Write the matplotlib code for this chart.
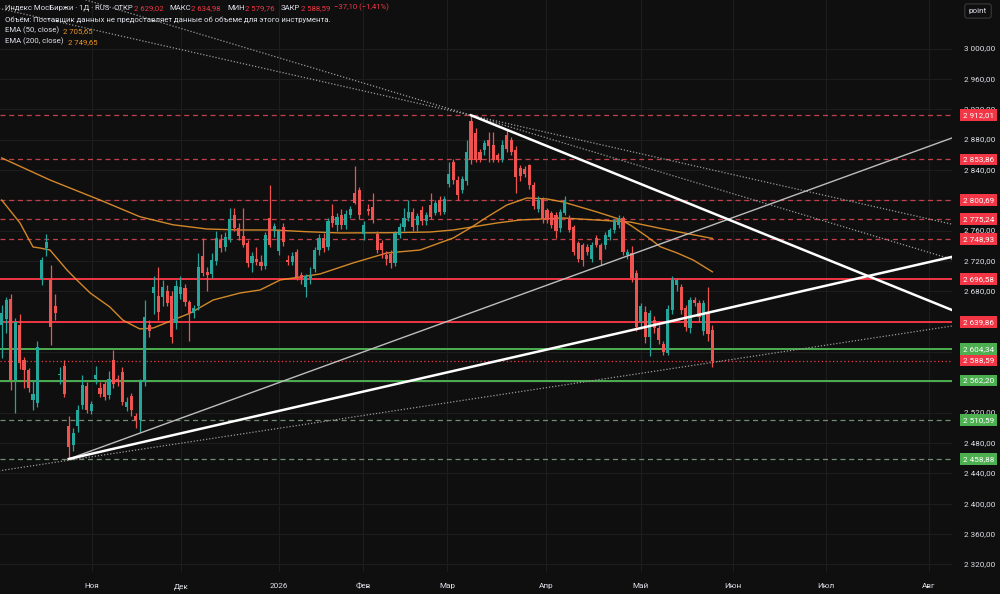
import matplotlib
matplotlib.use('Agg')
import matplotlib.pyplot as plt
from matplotlib.transforms import blended_transform_factory

# ---------------- data ----------------
opens = [2636, 2644, 2670, 2563, 2635, 2589, 2576, 2537, 2533, 2696,
         2737, 2695, 2660, 2569, 2581, 2502, 2477, 2502, 2530, 2555,
         2522, 2564, 2552, 2558, 2543, 2589, 2565, 2573, 2528, 2542,
         2515, 2510, 2561, 2635, 2678, 2674, 2672, 2680, 2674, 2638,
         2676, 2684, 2666, 2652, 2660, 2727, 2706, 2703, 2720, 2748,
         2739, 2749, 2781, 2764, 2753, 2743, 2717, 2723, 2718, 2713,
         2776, 2759, 2733, 2765, 2721, 2719, 2732, 2701, 2685, 2697,
         2710, 2734, 2750, 2739, 2779, 2768, 2780, 2767, 2781, 2810,
         2813, 2756, 2789, 2791, 2755, 2743, 2728, 2729, 2717, 2754,
         2765, 2776, 2785, 2768, 2787, 2772, 2794, 2783, 2800, 2785,
         2822, 2850, 2827, 2814, 2825, 2905, 2888, 2864, 2866, 2879,
         2873, 2859, 2855, 2886, 2880, 2866, 2842, 2841, 2846, 2820,
         2788, 2801, 2787, 2783, 2781, 2763, 2783, 2776, 2765, 2743,
         2741, 2739, 2723, 2750, 2741, 2741, 2752, 2761, 2767, 2776,
         2728, 2730, 2704, 2640, 2653, 2620, 2642, 2631, 2611, 2598,
         2655, 2688, 2686, 2658, 2631, 2668, 2664, 2627, 2653, 2629.02]
highs = [2662, 2673, 2677, 2645, 2650, 2593, 2579, 2563, 2615, 2725,
         2756, 2715, 2677, 2580, 2590, 2515, 2500, 2530, 2570, 2560,
         2535, 2582, 2560, 2562, 2575, 2602, 2570, 2580, 2540, 2546,
         2520, 2565, 2668, 2642, 2700, 2712, 2695, 2688, 2680, 2695,
         2700, 2690, 2668, 2662, 2730, 2750, 2712, 2730, 2760, 2755,
         2758, 2790, 2790, 2770, 2790, 2748, 2732, 2738, 2728, 2758,
         2820, 2770, 2762, 2770, 2728, 2732, 2736, 2705, 2703, 2712,
         2738, 2755, 2757, 2777, 2795, 2783, 2788, 2787, 2792, 2845,
         2818, 2772, 2795, 2810, 2760, 2748, 2733, 2735, 2760, 2770,
         2790, 2800, 2790, 2783, 2792, 2785, 2810, 2800, 2805, 2805,
         2850, 2855, 2832, 2832, 2880, 2912.01, 2895, 2868, 2880, 2890,
         2890, 2862, 2880, 2892, 2884, 2871, 2846, 2845, 2848, 2824,
         2805, 2804, 2790, 2786, 2784, 2788, 2806, 2780, 2768, 2746,
         2744, 2742, 2745, 2754, 2744, 2758, 2764, 2775, 2781, 2779,
         2736, 2740, 2708, 2665, 2660, 2655, 2648, 2636, 2615, 2662,
         2700, 2697, 2690, 2662, 2672, 2672, 2668, 2668, 2685, 2634.98]
lows = [2592, 2625, 2550, 2520, 2578, 2552, 2547, 2523, 2528, 2688,
        2726, 2609, 2642, 2558, 2540, 2458.88, 2470, 2495, 2525, 2520,
        2518, 2558, 2540, 2536, 2538, 2552, 2555, 2530, 2522, 2515,
        2500, 2495, 2555, 2620, 2650, 2642, 2660, 2660, 2612, 2630,
        2670, 2660, 2615, 2645, 2655, 2700, 2680, 2698, 2715, 2732,
        2733, 2745, 2760, 2748, 2738, 2712, 2705, 2714, 2708, 2710,
        2738, 2752, 2728, 2740, 2715, 2715, 2695, 2690, 2673, 2690,
        2705, 2728, 2732, 2735, 2765, 2760, 2762, 2762, 2776, 2795,
        2775, 2748, 2780, 2770, 2730, 2724, 2715, 2711, 2713, 2750,
        2760, 2772, 2760, 2760, 2768, 2768, 2775, 2780, 2780, 2782,
        2818, 2822, 2800, 2810, 2820, 2848, 2850, 2850, 2860, 2850,
        2850, 2850, 2850, 2864, 2860, 2810, 2826, 2830, 2815, 2788,
        2784, 2770, 2770, 2764, 2750, 2758, 2780, 2758, 2728, 2718,
        2713, 2728, 2718, 2738, 2715, 2736, 2748, 2757, 2764, 2728,
        2722, 2692, 2628, 2630, 2612, 2595, 2625, 2610, 2596, 2596,
        2650, 2680, 2650, 2628, 2625, 2660, 2640, 2622, 2615, 2579.76]
closes = [2651, 2668, 2563, 2639, 2586, 2576, 2552, 2545, 2606, 2721,
          2745, 2633, 2651, 2571, 2544, 2475, 2493, 2524, 2556, 2524,
          2532, 2570, 2545, 2541, 2565, 2558, 2560, 2534, 2534, 2523,
          2510, 2561, 2646, 2628, 2685, 2653, 2686, 2665, 2620, 2687,
          2686, 2666, 2651, 2658, 2712, 2704, 2701, 2721, 2750, 2737,
          2751, 2775, 2764, 2753, 2741, 2717, 2726, 2718, 2713, 2754,
          2741, 2766, 2759, 2745, 2719, 2726, 2699, 2697, 2700, 2701,
          2734, 2750, 2737, 2772, 2770, 2778, 2768, 2782, 2788, 2797,
          2781, 2768, 2786, 2774, 2734, 2735, 2722, 2717, 2757, 2765,
          2776, 2784, 2765, 2779, 2772, 2781, 2778, 2796, 2785, 2801,
          2835, 2827, 2807, 2828, 2864, 2853, 2853, 2853, 2875, 2871,
          2853, 2853, 2873, 2868, 2864, 2831, 2832, 2835, 2820, 2792,
          2800, 2775, 2774, 2768, 2759, 2785, 2800, 2761, 2732, 2723,
          2721, 2732, 2741, 2741, 2721, 2754, 2761, 2772, 2776, 2732,
          2732, 2697, 2633, 2660, 2620, 2651, 2631, 2616, 2600, 2657,
          2695, 2695, 2655, 2633, 2668, 2664, 2646, 2664, 2624, 2588.59]

# EMA readings (bar index, value)
ema50_idx = [0, 4.1, 7.0, 8.6, 10.8, 14.6, 16.8, 19.8, 24.2, 27.1, 30.9, 33.9,
             42.2, 47.3, 53.3, 57.8, 62.3, 66.7, 71.2, 78.6, 86.2, 93.6, 101,
             104.8, 108.6, 113.0, 117.5, 122, 125.6, 133.2, 138.3, 140.6, 144.4,
             147.3, 151.1, 154.7, 159]
ema50_val = [2800.3, 2770.0, 2738.4, 2737.0, 2734.4, 2708.1, 2694.9, 2677.7,
             2659.3, 2642.0, 2630.3, 2631.6, 2651.3, 2668.5, 2677.7, 2681.7,
             2694.9, 2698.8, 2702.8, 2717.3, 2730.5, 2734.4, 2750.2, 2763.4,
             2777.9, 2793.7, 2803.0, 2801.7, 2797.7, 2784.5, 2774.9, 2767.4,
             2752.0, 2738.8, 2730.5, 2721.2, 2705.65]
ema200_idx = [0, 10.8, 22.0, 30.9, 38.3, 45.9, 53.3, 60.7, 68.3, 75.7, 86.2,
              95.8, 101, 110.8, 116, 125.6, 140.6, 147.3, 159]
ema200_val = [2855.8, 2826.7, 2800.3, 2778.3, 2767.7, 2762.1, 2760.8, 2760.8,
              2758.5, 2756.9, 2757.2, 2758.1, 2760.8, 2770.0, 2774.0, 2776.6,
              2771.3, 2763.0, 2749.65]

# month labels (bar index of first bar of month)
month_pos = [20.2, 40.1, 62.0, 80.8, 99.6, 121.8, 143.0, 163.6, 184.4, 207.4]
month_labels = ['Ноя', 'Дек', '2026', 'Фев', 'Мар', 'Апр', 'Май', 'Июн', 'Июл', 'Авг']

price_grid = [2320, 2360, 2400, 2440, 2480, 2520, 2560, 2600, 2640, 2680,
              2720, 2760, 2800, 2840, 2880, 2920, 2960, 3000]
hidden_ticks = [2560, 2600, 2640, 2800]

levels_red_dashed = [2912.01, 2853.86, 2800.69, 2775.24, 2748.93]
levels_red_solid = [2696.58, 2639.86]
levels_green_solid = [2604.34, 2562.20]
levels_green_dashed = [2510.59, 2458.88]
last_close = 2588.59

# trend lines: (bar index, price) anchors
tl_peak_down = [(105, 2912.01), (214.4, 2651.0)]
tl_low_up_thick = [(15, 2458.88), (214.4, 2727.8)]
tl_low_up_thin = [(15, 2458.88), (214.4, 2886.0)]
tl_dotted_low = [(0, 2443.8), (214.4, 2635.8)]
tl_dotted_a = [(105, 2912.01), (214.4, 2766.0)]
tl_dotted_b = [(105, 2912.01), (214.4, 2719.0)]

# ---------------- style ----------------
BG = '#0f0f0f'
GRID = '#1d1d1d'
TXT = '#dfe2ea'
UP = '#26a69a'
DN = '#ef5350'
RED = '#f23645'
GREEN = '#4caf50'
ORANGE = '#e8952c'
FONT = ['Roboto', 'DejaVu Sans']
AXFS = 5.9
FS = 5.6

W, H = 1000, 594
fig = plt.figure(figsize=(W / 100, H / 100), dpi=100, facecolor=BG)
ax = fig.add_axes([0, 22 / H, 952 / W, 572 / H])
ax.set_facecolor(BG)

XMIN, XMAX = -0.38, 212.6
YMIN, YMAX = 2309.9, 3064.0
ax.set_xlim(XMIN, XMAX)
ax.set_ylim(YMIN, YMAX)


def fmt(p):
    return f"{p:,.2f}".replace(',', ' ').replace('.', ',')


# grid + ticks
ax.set_xticks(month_pos)
ax.set_xticklabels(month_labels)
ax.set_yticks(price_grid)
ax.set_yticklabels([])
ax.grid(True, color=GRID, lw=0.8)
ax.set_axisbelow(True)
for s in ax.spines.values():
    s.set_visible(False)
ax.tick_params(axis='y', length=0, left=False, right=False)
ax.tick_params(axis='x', length=0, pad=8, labelsize=AXFS, labelcolor=TXT)
for t in ax.get_xticklabels():
    t.set_family(FONT)

tr = blended_transform_factory(fig.transFigure, ax.transData)
for p in price_grid:
    if p in hidden_ticks:
        continue
    ax.text(995 / W, p, fmt(p), transform=tr, ha='right', va='center',
            fontsize=AXFS, color=TXT, family=FONT, clip_on=False, zorder=5)

# horizontal levels
for p in levels_red_dashed:
    ax.axhline(p, color='#c2404c', lw=0.9, ls=(0, (4, 3)), zorder=1)
for p in levels_red_solid:
    ax.axhline(p, color=RED, lw=1.4, zorder=1)
for p in levels_green_solid:
    ax.axhline(p, color=GREEN, lw=1.4, zorder=1)
for p in levels_green_dashed:
    ax.axhline(p, color='#6f8f6f', lw=0.9, ls=(0, (4, 3)), zorder=1)
ax.axhline(last_close, color=RED, lw=0.9, ls=(0, (1, 2)), zorder=1)


def draw_line(anchors, extend_left, **kw):
    (x1, y1), (x2, y2) = anchors
    k = (y2 - y1) / (x2 - x1)
    xa = XMIN - 5 if extend_left else x1
    xb = XMAX + 5
    ax.plot([xa, xb], [y1 + k * (xa - x1), y1 + k * (xb - x1)], **kw)


draw_line(tl_dotted_a, True, color='#9a9a9a', lw=0.9, ls=(0, (1, 1.5)), zorder=2)
draw_line(tl_dotted_b, True, color='#9a9a9a', lw=0.9, ls=(0, (1, 1.5)), zorder=2)
draw_line(tl_dotted_low, True, color='#9a9a9a', lw=0.9, ls=(0, (1, 1.5)), zorder=2)
draw_line(tl_low_up_thin, False, color='#bdbdbd', lw=1.0, zorder=4)
draw_line(tl_low_up_thick, False, color='#ffffff', lw=1.8, zorder=4)
draw_line(tl_peak_down, False, color='#ffffff', lw=1.8, zorder=4)

# EMAs
ax.plot(ema50_idx, ema50_val, color=ORANGE, lw=1.0, zorder=3, alpha=0.9)
ax.plot(ema200_idx, ema200_val, color=ORANGE, lw=1.0, zorder=3, alpha=0.9)

# candles
idx = list(range(len(opens)))
cols = [UP if c >= o else DN for o, c in zip(opens, closes)]
ax.vlines(idx, lows, highs, colors=cols, lw=0.9, zorder=3)
bottoms = [min(o, c) for o, c in zip(opens, closes)]
heights = [max(abs(c - o), 1.2) for o, c in zip(opens, closes)]
ax.bar(idx, heights, bottom=bottoms, width=0.7, color=cols, lw=0, zorder=3)

# right price labels
lab_x = 978.5 / W


def price_label(p, color):
    ax.text(lab_x, p, fmt(p), transform=tr, ha='center', va='center',
            fontsize=AXFS, color='white', family=FONT, clip_on=False, zorder=10,
            bbox=dict(boxstyle='square,pad=0.35', fc=color, ec='none'))


for p in levels_red_dashed + levels_red_solid + [last_close]:
    price_label(p, RED)
for p in levels_green_solid + levels_green_dashed:
    price_label(p, GREEN)


# legend text (top-left)
def chain(parts, x, y):
    t = fig.text(x, y, parts[0][0], color=parts[0][1], fontsize=FS,
                 family=FONT, ha='left', va='bottom')
    last = t
    for s, c, gap in parts[1:]:
        last = ax.annotate(s, xy=(1, 0), xycoords=last, xytext=(gap, 0),
                           textcoords='offset points', color=c, fontsize=FS,
                           family=FONT, ha='left', va='bottom', annotation_clip=False)


chain([('Индекс МосБиржи · 1Д · RUS', TXT),
       ('ОТКР', TXT, 3), ('2 629,02', RED, 0.2),
       ('МАКС', TXT, 4.5), ('2 634,98', RED, 0.2),
       ('МИН', TXT, 4.5), ('2 579,76', RED, 0.2),
       ('ЗАКР', TXT, 4.5), ('2 588,59', RED, 0.2),
       ('−37,10 (−1,41%)', RED, 3)], 5 / W, 1 - 11 / H)
chain([('Объём: Поставщик данных не предоставляет данные об объеме для этого инструмента.', TXT)],
      5 / W, 1 - 23 / H)
chain([('EMA (50, close)', TXT), ('2 705,65', ORANGE, 3)], 5 / W, 1 - 34 / H)
chain([('EMA (200, close)', TXT), ('2 749,65', ORANGE, 3)], 5 / W, 1 - 45 / H)

fig.text(978 / W, 1 - 11 / H, 'point', ha='center', va='center', fontsize=AXFS,
         color=TXT, family=FONT,
         bbox=dict(boxstyle='round,pad=0.5,rounding_size=0.3', fc=BG, ec='#3a3a3a', lw=0.8))

fig.savefig('out.png', dpi=100, facecolor=BG)
